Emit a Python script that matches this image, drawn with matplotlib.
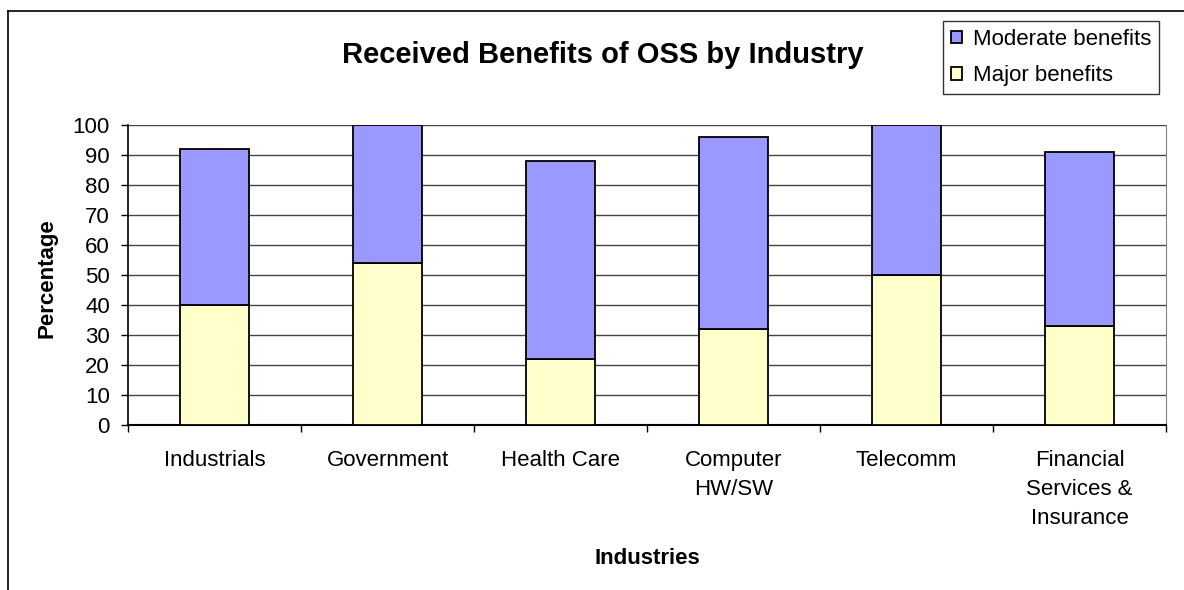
import matplotlib
matplotlib.use('Agg')
import matplotlib.pyplot as plt
import numpy as np
from matplotlib.lines import Line2D

plt.rcParams['font.family'] = ['Liberation Sans', 'DejaVu Sans']

# data
industries = ['Industrials', 'Government', 'Health Care', 'Computer\nHW/SW',
              'Telecomm', 'Financial\nServices &\nInsurance']
major = [40, 54, 22, 32, 50, 33]
moderate = [52, 46, 66, 64, 50, 58]
yticks = [0, 10, 20, 30, 40, 50, 60, 70, 80, 90, 100]

fig = plt.figure(figsize=(11.84, 5.9), dpi=100)
ax = fig.add_axes([128 / 1184, 1 - 425 / 590, 1038 / 1184, 300 / 590])

x = np.arange(len(industries))
ax.bar(x, major, width=0.4, color='#FFFFCC', edgecolor='black', linewidth=1.3,
       label='Major benefits', zorder=3)
ax.bar(x, moderate, width=0.4, bottom=major, color='#9999FF', edgecolor='black',
       linewidth=1.3, label='Moderate benefits', zorder=3)

ax.set_xlim(-0.5, len(industries) - 0.5)
ax.set_ylim(0, 100)
ax.set_yticks(yticks)
ax.yaxis.grid(True, color='#444444', linewidth=1.0, zorder=0)
ax.tick_params(axis='y', direction='out', length=5, width=1, pad=8, labelsize=16)

ax.set_xticks(x)
ax.set_xticklabels(industries, fontsize=16, linespacing=1.5, va='top')
ax.set_xticks(np.arange(len(industries) + 1) - 0.5, minor=True)
ax.tick_params(axis='x', which='major', length=0, pad=18)
ax.tick_params(axis='x', which='minor', direction='out', length=5, width=1)

ax.spines['top'].set_visible(False)
ax.spines['right'].set_color('#808080')
ax.spines['left'].set_linewidth(1.2)
ax.spines['bottom'].set_linewidth(1.5)

fig.text(603 / 1184, 1 - 55 / 590, 'Received Benefits of OSS by Industry',
         fontsize=21, fontweight='bold', ha='center', va='center')
fig.text(47 / 1184, 1 - 278 / 590, 'Percentage', fontsize=16, fontweight='bold',
         rotation=90, ha='center', va='center')
fig.text(647 / 1184, 1 - 558 / 590, 'Industries', fontsize=16, fontweight='bold',
         ha='center', va='center')

handles, labels = ax.get_legend_handles_labels()
leg = fig.legend(handles[::-1], labels[::-1], loc='upper right',
                 bbox_to_anchor=(1159 / 1184, 1 - 21 / 590), fontsize=16,
                 frameon=True, fancybox=False, edgecolor='black',
                 handlelength=0.5, handleheight=0.5, handletextpad=0.5,
                 borderpad=0.35, labelspacing=0.7, borderaxespad=0)
leg.get_frame().set_linewidth(1.0)

# outer chart border (cropped Excel chart frame)
fig.add_artist(Line2D([8 / 1184, 8 / 1184], [0, 1 - 11 / 590], color='black', linewidth=1.2))
fig.add_artist(Line2D([8 / 1184, 1], [1 - 11 / 590, 1 - 11 / 590], color='black', linewidth=1.2))

fig.savefig('out.png', dpi=100)
